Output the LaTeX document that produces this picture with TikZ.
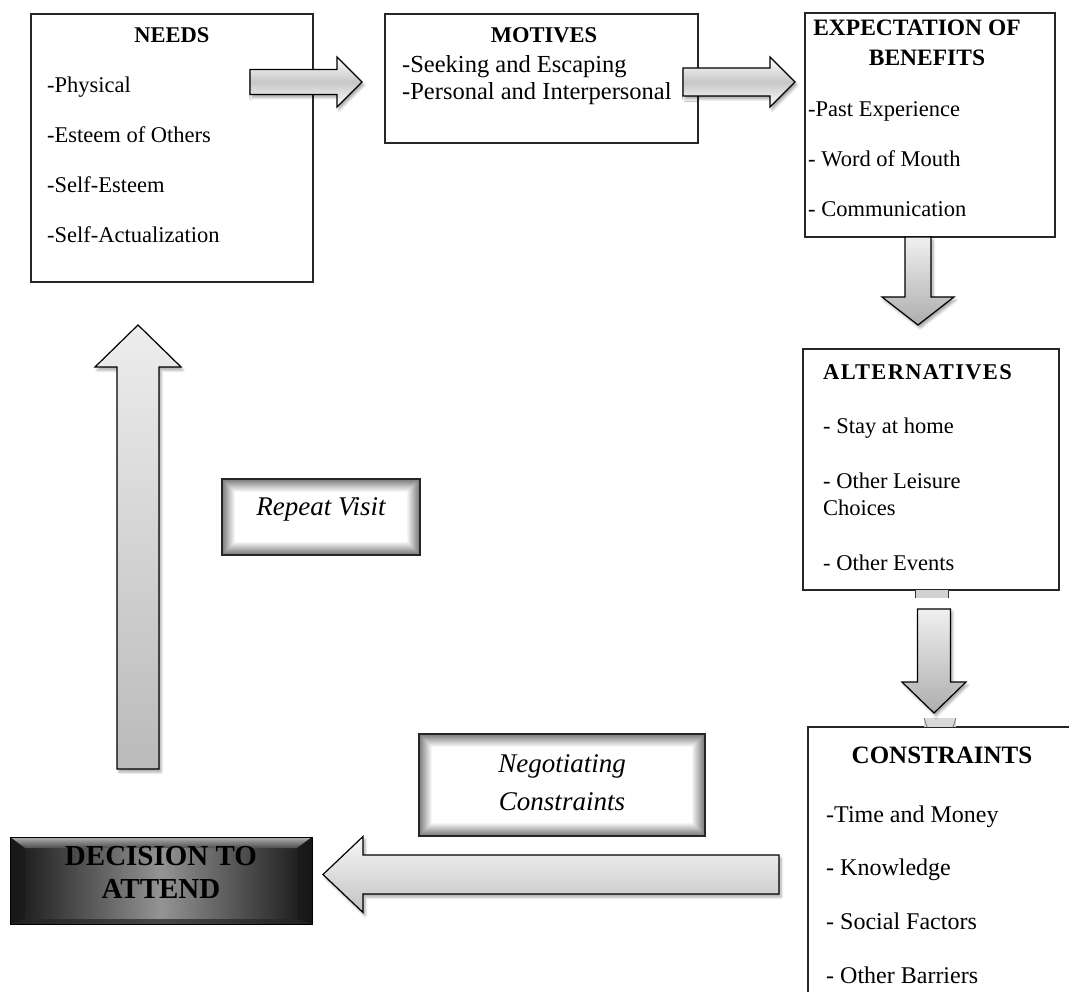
\documentclass[tikz,border=0pt]{standalone}
\usepackage{fontspec}
\setmainfont{Liberation Serif}
\usetikzlibrary{calc,shadows.blur}

% horizontal block arrow: tail, tip, shaft half width, head half width, signed head length, style
\newcommand\blockH[6]{\path[#6] let \p1=(#1), \p2=(#2) in
  ({\x1},{\y1+#3}) -- ({\x2-(#5)},{\y1+#3}) -- ({\x2-(#5)},{\y1+#4}) -- ({\x2},{\y1})
  -- ({\x2-(#5)},{\y1-#4}) -- ({\x2-(#5)},{\y1-#3}) -- ({\x1},{\y1-#3}) -- cycle;}
% vertical block arrow: tail, tip, shaft half width, head half width, signed head length, style
\newcommand\blockV[6]{\path[#6] let \p1=(#1), \p2=(#2) in
  ({\x1+#3},{\y1}) -- ({\x1+#3},{\y2+(#5)}) -- ({\x1+#4},{\y2+(#5)}) -- ({\x1},{\y2})
  -- ({\x1-#4},{\y2+(#5)}) -- ({\x1-#3},{\y2+(#5)}) -- ({\x1-#3},{\y1}) -- cycle;}

\tikzset{
  box/.style={draw=black!85, line width=1.2pt, fill=white, inner sep=0pt, outer sep=0pt},
  plain/.style={inner sep=0pt, outer sep=0pt},
  head/.style={font=\bfseries\fontsize{22.5}{26}\selectfont, inner sep=0pt, anchor=base},
  item/.style={font=\fontsize{22.5}{26}\selectfont, inner sep=0pt, anchor=base west},
  ital/.style={font=\itshape\fontsize{27}{32}\selectfont, inner sep=0pt, anchor=base},
  arr/.style={draw=black, line width=1.2pt, line join=miter,
    blur shadow={shadow xshift=2pt, shadow yshift=-3pt, shadow blur radius=2.5pt, shadow opacity=35}},
  tube/.style={arr, top color=white, bottom color=white, middle color=black!22},
  fall/.style={arr, top color=black!6, bottom color=black!32},
}

\begin{document}
\begin{tikzpicture}[x=1pt,y=-1pt]
\useasboundingbox (0,0) rectangle (1069,992);
\clip (0,0) rectangle (1069,992);

% ---- NEEDS ----
\node[box, minimum width=282pt, minimum height=268pt] (needs) at (172,148) {};
\node[head] (needsH) at (172,43) {NEEDS};
\node[item] (needs1) at (47,93) {-Physical};
\node[item] (needs2) at (47,143) {-Esteem of Others};
\node[item] (needs3) at (47,193) {-Self-Esteem};
\node[item] (needs4) at (47,243) {-Self-Actualization};

% ---- MOTIVES ----
\node[box, minimum width=313pt, minimum height=129pt] (motives) at (541.5,78.5) {};
\node[head] (motivesH) at (544,43) {MOTIVES};
\node[item, font=\fontsize{24.5}{28}\selectfont] (motives1) at (402,73) {-Seeking and Escaping};
\node[item, font=\fontsize{24.5}{28}\selectfont] (motives2) at (402,100) {-Personal and Interpersonal};

% ---- EXPECTATION OF BENEFITS ----
\node[box, minimum width=250pt, minimum height=224pt] (expect) at (930,125) {};
\node[head, font=\bfseries\fontsize{23.5}{26}\selectfont] (expectH1) at (917,36) {EXPECTATION OF};
\node[head, font=\bfseries\fontsize{23.5}{26}\selectfont] (expectH2) at (927,66) {BENEFITS};
\node[item] (expect1) at (808,117) {-Past Experience};
\node[item] (expect2) at (808,167) {- Word of Mouth};
\node[item] (expect3) at (808,217) {- Communication};

% ---- ALTERNATIVES ----
\node[box, minimum width=256pt, minimum height=241pt] (alt) at (931,469.5) {};
\node[head, anchor=base west, font=\bfseries\fontsize{22.5}{26}\selectfont\addfontfeature{LetterSpace=6}] (altH) at (823,380) {ALTERNATIVES};
\node[item] (alt1) at (823,433) {- Stay at home};
\node[item] (alt2) at (823,488) {- Other Leisure};
\node[item] (alt3) at (823,515) {Choices};
\node[item] (alt4) at (823,570) {- Other Events};

% ---- CONSTRAINTS (runs past the lower right edge) ----
\node[box, minimum width=272pt, minimum height=278pt] (constr) at (944,866) {};
\node[head, font=\bfseries\fontsize{25}{28}\selectfont] (constrH) at (942,763) {CONSTRAINTS};
\node[item, font=\fontsize{24}{28}\selectfont] (constr1) at (826,822) {-Time and Money};
\node[item, font=\fontsize{24}{28}\selectfont] (constr2) at (826,875) {- Knowledge};
\node[item, font=\fontsize{24}{28}\selectfont] (constr3) at (826,929) {- Social Factors};
\node[item, font=\fontsize{24}{28}\selectfont] (constr4) at (826,983) {- Other Barriers};

% ---- shaded label boxes with an inner glow ----
\node[plain, minimum width=198pt, minimum height=76pt] (rep) at (321,517) {};
\node[plain, minimum width=286pt, minimum height=102pt] (neg) at (562,785) {};
\foreach \b in {rep,neg}{
  \foreach \i [evaluate=\i as \c using {int(52-4*\i)}] in {0,...,12}
    \fill[black!\c] ($(\b.south west)+(\i,-\i)$) rectangle ($(\b.north east)+(-\i,\i)$);
  \fill[white] ($(\b.south west)+(13,-13)$) rectangle ($(\b.north east)+(-13,13)$);
  \draw[black!85, line width=1.3pt] (\b.south west) rectangle (\b.north east);
}
\node[ital] (repT) at (321,515) {Repeat Visit};
\node[ital] (negT1) at (562,772) {Negotiating};
\node[ital] (negT2) at (562,810) {Constraints};

% ---- DECISION TO ATTEND (bevelled dark button) ----
\node[plain, minimum width=302pt, minimum height=87pt] (dec) at (161,880.5) {};
\shade[left color=black!92, right color=black!92, middle color=black!42]
  (dec.south west) rectangle (dec.north east);
\shade[top color=black!30, bottom color=black!70]
  (dec.north west) -- (dec.north east) -- ($(dec.north east)+(-15,11)$) -- ($(dec.north west)+(15,11)$) -- cycle;
\fill[black!90, opacity=.6]
  (dec.north west) -- ($(dec.north west)+(15,11)$) -- ($(dec.south west)+(15,-5)$) -- (dec.south west) -- cycle;
\fill[black!90, opacity=.6]
  (dec.north east) -- ($(dec.north east)+(-15,11)$) -- ($(dec.south east)+(-15,-5)$) -- (dec.south east) -- cycle;
\fill[black!85, opacity=.7]
  (dec.south west) -- ($(dec.south west)+(15,-5)$) -- ($(dec.south east)+(-15,-5)$) -- (dec.south east) -- cycle;
\draw[black, line width=0.8pt] (dec.south west) rectangle (dec.north east);
\node[head, font=\bfseries\fontsize{29}{33}\selectfont] (decT1) at (161,865) {DECISION TO};
\node[head, font=\bfseries\fontsize{29}{33}\selectfont] (decT2) at (161,898) {ATTEND};

% ---- block arrows between the stages ----
\coordinate (a1s) at (250,82);  \coordinate (a1e) at (362,82);
\coordinate (a2s) at (683,82);  \coordinate (a2e) at (795,82);
\coordinate (a3s) at (918,237); \coordinate (a3e) at (918,325);
\coordinate (a4s) at (934,609); \coordinate (a4e) at (934,713);
\coordinate (a5s) at (779,874.5); \coordinate (a5e) at (323,874.5);
\coordinate (a6s) at (138,769); \coordinate (a6e) at (138,325);

\blockH{a1s}{a1e}{12.5pt}{25pt}{25pt}{tube}
\blockH{a2s}{a2e}{14pt}{25pt}{25pt}{tube}
\blockV{a3s}{a3e}{13pt}{36pt}{28pt}{fall}
% short stubs of the shaft behind the boxes
\fill[black!18] (915,590) rectangle (948,598);
\draw[black!80, line width=1pt] (915,590) -- (915,598) (948,590) -- (948,598);
\fill[black!15] (924,718) rectangle (956,727);
\draw[black!55, line width=0.8pt] (924,718) -- (927,727) (956,718) -- (953,727);
\blockV{a4s}{a4e}{16.5pt}{32pt}{31pt}{fall}
\blockH{a5s}{a5e}{19.5pt}{38pt}{-40pt}{arr, top color=black!3, bottom color=black!24}
\blockV{a6s}{a6e}{21pt}{43pt}{-42pt}{arr, top color=black!7, bottom color=black!27}
\end{tikzpicture}
\end{document}
